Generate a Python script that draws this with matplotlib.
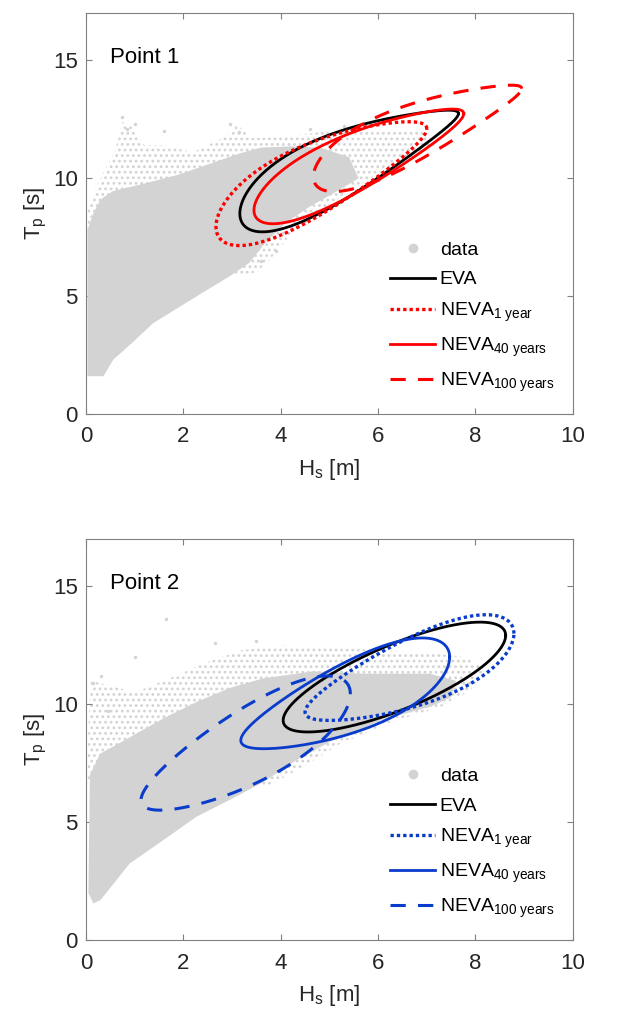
import numpy as np
import matplotlib
matplotlib.use('Agg')
import matplotlib.pyplot as plt
from matplotlib.lines import Line2D

plt.rcParams['font.family'] = ['Liberation Sans', 'DejaVu Sans']
plt.rcParams['mathtext.fontset'] = 'custom'
plt.rcParams['mathtext.rm'] = 'Liberation Sans'
plt.rcParams['mathtext.it'] = 'Liberation Sans'
plt.rcParams['hatch.linewidth'] = 1.2

# contour labels
labels = ['EVA', r'NEVA$_{\mathrm{1\ year}}$', r'NEVA$_{\mathrm{40\ years}}$', r'NEVA$_{\mathrm{100\ years}}$']

# contour shapes (order: EVA, 1 yr, 40 yr, 100 yr)
# left end / right end (Hs, Tp), half width in Tp, egg factor, bend
p1_hs_l = [3.16, 2.67, 3.45, 4.67]
p1_tp_l = [8.50, 7.94, 8.64, 10.06]
p1_hs_r = [7.65, 7.00, 7.76, 8.95]
p1_tp_r = [12.74, 12.10, 12.74, 13.80]
p1_w = [1.45, 1.60, 1.30, 1.25]
p1_k = [0.50, 0.35, 0.35, 0.45]
p1_m = [0.05, 0.05, 0.05, 0.05]

p2_hs_l = [4.05, 4.50, 3.18, 1.13]
p2_tp_l = [9.32, 9.67, 8.47, 5.93]
p2_hs_r = [8.62, 8.79, 7.47, 5.43]
p2_tp_r = [12.92, 13.00, 12.00, 10.45]
p2_w = [1.48, 1.50, 1.55, 1.73]
p2_k = [-0.05, -0.30, -0.30, -0.20]
p2_m = [0.0, 0.0, 0.0, 0.0]

# data cloud outlines (dense core / sparse fringe), Hs and Tp
p1_dense_hs = [0.03, 0.36, 0.56, 0.94, 1.38, 1.93, 2.48, 2.96, 3.35, 3.7, 4.1, 4.6, 5.2, 5.6,
               5.4, 4.8, 4.2, 3.6, 3.15, 2.6, 1.9, 1.25, 0.55, 0.3, 0.15, 0.03]
p1_dense_tp = [1.6, 1.6, 2.3, 3.0, 3.85, 4.55, 5.25, 5.85, 6.4, 7.3, 8.1, 8.8, 9.5, 10.0,
               10.9, 11.3, 11.35, 11.3, 11.05, 10.65, 10.15, 9.8, 9.45, 9.1, 8.5, 7.8]
p1_fringe_hs = [0.03, 0.04, 0.3, 0.6, 0.75, 0.95, 1.2, 1.6, 2.2, 2.9, 3.1, 3.4, 4.2, 5.0, 6.0,
                6.9, 7.2, 6.8, 6.2, 5.5, 4.8, 4.2, 3.8, 3.5, 3.0]
p1_fringe_tp = [7.8, 8.8, 10.0, 11.2, 12.4, 12.2, 11.4, 11.4, 11.1, 11.8, 12.3, 11.7, 11.8, 12.0, 12.1,
                12.0, 11.4, 10.9, 10.4, 9.6, 8.5, 7.6, 6.6, 6.0, 5.85]
p1_out_hs = [0.75, 0.85, 1.0, 1.6, 2.95, 3.15, 4.6, 5.3, 3.6, 2.0, 3.9]
p1_out_tp = [12.6, 12.1, 12.3, 12.0, 12.3, 11.95, 12.1, 12.2, 6.5, 6.0, 6.9]

p2_dense_hs = [0.05, 0.15, 0.3, 0.9, 1.59, 2.27, 2.96, 3.64, 4.3, 5.0, 5.6, 6.04, 7.06, 7.5,
               7.6, 7.06, 5.69, 4.67, 3.64, 2.96, 2.27, 1.59, 0.9, 0.29, 0.08]
p2_dense_tp = [2.0, 1.55, 1.7, 3.25, 4.24, 5.23, 5.95, 6.7, 7.6, 8.4, 8.9, 9.32, 9.89, 10.3,
               11.0, 11.3, 11.3, 11.4, 11.1, 10.7, 10.1, 9.4, 8.6, 7.9, 7.0]
p2_fringe_hs = [0.03, 0.05, 0.1, 0.5, 1.0, 1.6, 2.5, 3.2, 4.0, 5.0, 6.0, 7.0, 7.8, 8.2,
                7.9, 7.3, 6.2, 5.2, 4.5, 3.8]
p2_fringe_tp = [6.5, 9.0, 11.0, 10.8, 10.5, 11.0, 11.8, 12.3, 12.5, 12.4, 12.3, 12.2, 12.0, 11.5,
                10.6, 9.9, 9.2, 8.3, 7.4, 6.6]
p2_out_hs = [1.65, 0.45, 0.15, 2.65, 3.5, 4.65, 0.3, 1.0]
p2_out_tp = [13.6, 9.7, 10.9, 12.6, 12.7, 8.1, 11.2, 12.0]

line_styles = ['-', (0, (1, 0.9)), '-', (0, (5, 4))]
line_widths = [2.0, 2.4, 2.0, 2.2]
grey = '#d3d3d3'


def contour(hs_l, tp_l, hs_r, tp_r, w, k, m):
    # sheared egg-shaped closed curve between the two end points
    t = np.linspace(0, 2 * np.pi, 500)
    cx, hx = 0.5 * (hs_l + hs_r), 0.5 * (hs_r - hs_l)
    cy, hy = 0.5 * (tp_l + tp_r), 0.5 * (tp_r - tp_l)
    x = cx + hx * np.cos(t)
    y = cy + hy * np.cos(t) + w * np.sin(t) * (1 - k * np.cos(t)) + m * np.sin(t) ** 2
    return x, y


def draw_panel(ax, title, color, dense, fringe, outl, shapes):
    ax.fill(fringe[0], fringe[1], facecolor='white', edgecolor=grey, hatch='...', lw=0, zorder=1)
    ax.fill(dense[0], dense[1], color=grey, lw=0, zorder=2)
    ax.scatter(outl[0], outl[1], s=6, color=grey, lw=0, zorder=2)
    colors = ['black', color, color, color]
    for i in range(4):
        x, y = contour(*[s[i] for s in shapes])
        ax.plot(x, y, color=colors[i], ls=line_styles[i], lw=line_widths[i], zorder=3)
    handles = [Line2D([], [], ls='none', marker='o', ms=7, color=grey, mec='none')]
    for i in range(4):
        handles.append(Line2D([], [], color=colors[i], ls=line_styles[i], lw=line_widths[i]))
    ax.legend(handles, ['data'] + labels, loc='lower left', bbox_to_anchor=(0.605, 0.025),
              frameon=False, fontsize=14, handlelength=2.3, handletextpad=0.25,
              labelspacing=0.62, borderpad=0)
    ax.text(0.5, 14.9, title, fontsize=16, color='black')
    ax.set_xlim(0, 10)
    ax.set_ylim(0, 17)
    ax.set_xticks([0, 2, 4, 6, 8, 10])
    ax.set_yticks([0, 5, 10, 15])
    ax.tick_params(direction='in', top=True, right=True, length=4, color='#808080',
                   labelsize=16, labelcolor='#262626')
    ax.tick_params(axis='x', pad=9)
    ax.tick_params(axis='y', pad=6)
    for s in ax.spines.values():
        s.set_color('#808080')
    ax.set_xlabel(r'H$_{\mathrm{s}}$ [m]', fontsize=16, color='#262626', labelpad=7)
    ax.set_ylabel(r'T$_{\mathrm{p}}$ [s]', fontsize=16, color='#262626', labelpad=3)


fig = plt.figure(figsize=(6.44, 10.17), dpi=100)
ax1 = fig.add_axes([0.1335, 0.593, 0.756, 0.394])
ax2 = fig.add_axes([0.1335, 0.0757, 0.756, 0.394])

draw_panel(ax1, 'Point 1', '#ff0000', (p1_dense_hs, p1_dense_tp), (p1_fringe_hs, p1_fringe_tp),
           (p1_out_hs, p1_out_tp),
           (p1_hs_l, p1_tp_l, p1_hs_r, p1_tp_r, p1_w, p1_k, p1_m))
draw_panel(ax2, 'Point 2', '#0a3ccc', (p2_dense_hs, p2_dense_tp), (p2_fringe_hs, p2_fringe_tp),
           (p2_out_hs, p2_out_tp),
           (p2_hs_l, p2_tp_l, p2_hs_r, p2_tp_r, p2_w, p2_k, p2_m))

fig.savefig('out.png', dpi=100)
